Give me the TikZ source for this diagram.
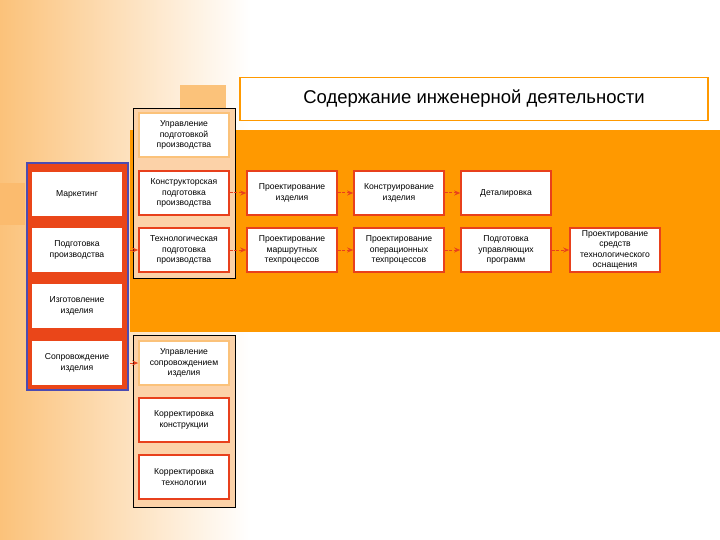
\documentclass[tikz,border=0pt]{standalone}
\usepackage{fontspec}
\setmainfont{Liberation Sans}
\usetikzlibrary{arrows.meta}
\definecolor{band}{HTML}{FF9900}
\definecolor{redb}{HTML}{E8401C}
\definecolor{lite}{HTML}{FBC27A}
\definecolor{pan}{HTML}{FCD2A8}
\begin{document}
\begin{tikzpicture}[x=1pt,y=-1pt,
  bx/.style={draw=redb,line width=1.6pt,fill=white,minimum width=89pt,minimum height=44pt,inner sep=1pt,align=center,font=\fontsize{8.6}{10.5}\selectfont,text width=88pt},
  bxl/.style={bx,draw=lite},
  ar/.style={-{Stealth[length=6pt,width=5pt]},draw=redb,line width=1pt,dash pattern=on 3pt off 1.5pt}]
\useasboundingbox (0,0) rectangle (720,540);
\shade[left color=lite,right color=white] (0,0) rectangle (250,540);
\fill[lite] (180,85) rectangle (226,128);
\fill[lite!90!orange] (0,183) rectangle (25,225);
\fill[band] (130,130) rectangle (720,332);
\node[draw=band,line width=1.5pt,fill=white,minimum width=468pt,minimum height=43pt,font=\fontsize{18.5}{22}\selectfont] (title) at (474,99) {Содержание инженерной деятельности};
% left column
\filldraw[draw=blue!40!gray,fill=redb!90!orange,line width=1.5pt] (27,163) rectangle (128,390);
\node[bx,draw=none] (mk) at (77,194) {Маркетинг};
\node[bx,draw=none] (pp) at (77,250) {Подготовка\\производства};
\node[bx,draw=none] (iz) at (77,306) {Изготовление\\изделия};
\node[bx,draw=none] (sp) at (77,363) {Сопровождение\\изделия};
% middle panels
\filldraw[draw=black,fill=pan,line width=0.8pt] (133,108) rectangle (235,278);
\filldraw[draw=black,fill=pan,line width=0.8pt] (133,335) rectangle (235,507);
\node[bxl] (up) at (184,135) {Управление\\подготовкой\\производства};
\node[bx] (kp) at (184,193) {Конструкторская\\подготовка\\производства};
\node[bx] (tp) at (184,250) {Технологическая\\подготовка\\производства};
\node[bxl] (us) at (184,363) {Управление\\сопровождением\\изделия};
\node[bx] (kk) at (184,420) {Корректировка\\конструкции};
\node[bx] (kt) at (184,477) {Корректировка\\технологии};
% right
\node[bx] (a1) at (292,193) {Проектирование\\изделия};
\node[bx] (a2) at (399,193) {Конструирование\\изделия};
\node[bx] (a3) at (506,193) {Деталировка};
\node[bx] (b1) at (292,250) {Проектирование\\маршрутных\\техпроцессов};
\node[bx] (b2) at (399,250) {Проектирование\\операционных\\техпроцессов};
\node[bx] (b3) at (506,250) {Подготовка\\управляющих\\программ};
\node[bx] (b4) at (615,250) {Проектирование\\средств\\технологического\\оснащения};
\draw[ar] (pp.east)++(7,0) -- (tp.west);
\draw[ar] (sp.east)++(7,0) -- (us.west);
\draw[ar] (kp) -- (a1); \draw[ar] (a1) -- (a2); \draw[ar] (a2) -- (a3);
\draw[ar] (tp) -- (b1); \draw[ar] (b1) -- (b2); \draw[ar] (b2) -- (b3); \draw[ar] (b3) -- (b4);
\end{tikzpicture}
\end{document}
